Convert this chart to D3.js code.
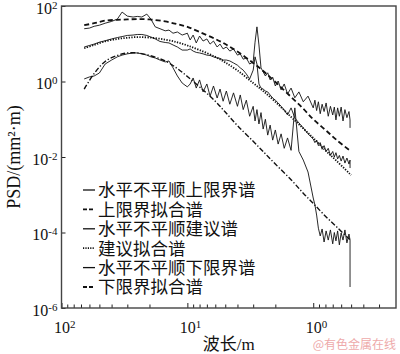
<!DOCTYPE html>
<html>
<head>
<meta charset="utf-8">
<script src="https://cdn.jsdelivr.net/npm/d3@7/dist/d3.min.js"></script>
<style>
  body { margin: 0; background: #fff; }
  text { fill: #111; }
</style>
</head>
<body>
<div id="chart"></div>
<script>
// wavelength grid of the measured spectra (m)
const measuredWl = [66, 60, 55, 50, 45, 40, 36, 33, 30, 27, 25, 23, 21, 19.5, 18, 16.5, 15, 14, 13, 12, 11, 10,
  9.5, 9, 8.5, 8, 7.5, 7, 6.6, 6.2, 5.8, 5.5, 5.2, 4.9, 4.6, 4.3, 4.0, 3.8, 3.6, 3.4, 3.2, 3.0,
  2.9, 2.8, 2.7, 2.6, 2.5, 2.4, 2.3, 2.2, 2.1, 2.0, 1.9, 1.8, 1.7, 1.6, 1.5, 1.4, 1.3, 1.2, 1.1, 1.0,
  0.97, 0.94, 0.91, 0.88, 0.85, 0.82, 0.79, 0.76, 0.73, 0.70, 0.68, 0.66, 0.64, 0.62, 0.60, 0.58, 0.56, 0.54, 0.52, 0.51, 0.51];

const upperMeasured = [25, 26, 29, 31, 35, 39, 45, 69, 54, 51, 53, 51, 61, 45, 28, 25, 22, 23, 19, 20.5, 17, 19,
  12.6, 17, 10.5, 16, 11.8, 13.4, 9.8, 11.8, 8.2, 9.8, 7.3, 8.2, 6.4, 7.3, 5.0, 5.4, 3.9, 4.2, 2.9, 3.3,
  11, 28, 9.3, 2.3, 1.8, 1.4, 1.7, 1.1, 1.3, 0.76, 1.03, 0.60, 0.86, 0.47, 0.67, 0.37, 0.53, 0.29, 0.41, 0.20,
  0.32, 0.17, 0.29, 0.14, 0.25, 0.16, 0.27, 0.12, 0.22, 0.13, 0.21, 0.096, 0.20, 0.12, 0.21, 0.090, 0.18, 0.11, 0.16, 0.096, 0.059];

const middleMeasured = [8.2, 9.0, 9.8, 11, 12, 13.4, 14.6, 15.5, 16.6, 17, 17.6, 17.6, 16.6, 15, 13.4, 11.5, 10.8, 10.5, 9.3, 8.2, 6.8, 6.8,
  7.3, 6.4, 5.9, 5.7, 5.4, 5.0, 4.9, 4.5, 4.2, 4.1, 3.7, 3.7, 3.5, 3.1, 2.7, 2.3, 2.0, 1.58, 1.17, 2.0,
  4.5, 2.9, 0.86, 0.67, 0.63, 0.56, 0.53, 0.44, 0.365, 0.32, 0.27, 0.22, 0.176, 0.13, 0.20, 0.108, 0.080, 0.059, 0.041, 0.030,
  0.024, 0.028, 0.020, 0.024, 0.016, 0.020, 0.014, 0.017, 0.011, 0.014, 0.010, 0.013, 0.0089, 0.011, 0.0078, 0.0106, 0.0069, 0.0094, 0.0065, 0.0083, 0.0051];

const lowerMeasured = [1.17, 1.32, 1.40, 1.68, 2.9, 3.7, 4.5, 5.0, 5.4, 5.7, 5.7, 5.4, 5.0, 4.5, 4.2, 3.7, 3.3, 3.5, 2.3, 1.40, 0.91, 0.72,
  0.86, 1.24, 0.67, 1.10, 0.53, 0.86, 0.41, 0.76, 0.365, 0.63, 0.30, 0.56, 0.25, 0.50, 0.22, 0.44, 0.18, 0.32, 0.12, 0.22,
  0.090, 0.18, 0.075, 0.15, 0.055, 0.10, 0.038, 0.070, 0.028, 0.052, 0.022, 0.041, 0.017, 0.032, 0.015, 0.20, 0.014, 0.0083, 0.0040, 8.2e-4,
  5.4e-4, 2.9e-4, 1.3e-4, 8.1e-5, 1.24e-4, 5.6e-5, 1.1e-4, 6.3e-5, 1.17e-4, 5.0e-5, 1.0e-4, 6.0e-5, 1.1e-4, 4.7e-5, 9.7e-5, 6.3e-5, 1.17e-4, 5.3e-5, 9.1e-5, 6.3e-5, 3.6e-6];

// fitted spectra
const fitWl = [66, 55, 45, 36, 30, 25, 20, 15, 12, 10, 8, 6, 5, 4, 3, 2.5, 2, 1.5, 1.2, 1, 0.8, 0.65, 0.5];
const upperFit = [31, 35, 41, 43, 44, 45, 44, 39, 33, 28, 20.5, 13.4, 9.8, 6.2, 3.1, 1.9, 0.97, 0.39, 0.19, 0.10, 0.052, 0.028, 0.014];
const middleFit = [7.6, 9.3, 11.6, 13.4, 14.4, 15, 14.6, 12.9, 10.9, 9.0, 6.8, 4.5, 3.2, 1.96, 0.91, 0.56, 0.29, 0.115, 0.057, 0.032, 0.015, 0.0078, 0.0033];
const lowerFit = [0.63, 1.63, 3.4, 4.9, 5.7, 5.7, 4.9, 3.5, 2.2, 1.36, 0.72, 0.30, 0.155, 0.068, 0.026, 0.014, 0.0065, 0.0025, 0.0011, 5.9e-4, 2.7e-4, 1.4e-4, 6.0e-5];

const xMajorTicks = [100, 10, 1];
const xMinorTicks = [90, 80, 70, 60, 50, 40, 30, 20, 9, 8, 7, 6, 5, 4, 3, 2, 0.9, 0.8, 0.7, 0.6, 0.5, 0.4, 0.3];
const yTicks = [1e2, 1, 1e-2, 1e-4, 1e-6];

const seriesNames = ["水平不平顺上限界谱", "上限界拟合谱", "水平不平顺建议谱", "建议拟合谱", "水平不平顺下限界谱", "下限界拟合谱"];

const width = 400;
const height = 354;
const plot = { left: 61.5, right: 396, top: 6, bottom: 308 };
const serif = "'Liberation Serif', 'Times New Roman', 'Noto Sans CJK SC', serif";
const cjk = "'Liberation Serif', 'Noto Sans CJK SC', sans-serif";

const styles = [
  { dash: null, width: 0.9 },
  { dash: "5,3", width: 1.8 },
  { dash: null, width: 0.9 },
  { dash: "1.3,1.4", width: 1.8 },
  { dash: null, width: 0.9 },
  { dash: "5,2,1.3,2", width: 1.4 },
];

const series = [
  { wl: measuredWl, psd: upperMeasured, curve: d3.curveLinear },
  { wl: fitWl, psd: upperFit, curve: d3.curveCatmullRom },
  { wl: measuredWl, psd: middleMeasured, curve: d3.curveLinear },
  { wl: fitWl, psd: middleFit, curve: d3.curveCatmullRom },
  { wl: measuredWl, psd: lowerMeasured, curve: d3.curveLinear },
  { wl: fitWl, psd: lowerFit, curve: d3.curveCatmullRom },
].map((s, i) => ({ ...s, name: seriesNames[i], style: styles[i], points: s.wl.map((w, j) => [w, s.psd[j]]) }));

const svg = d3.select("#chart").append("svg").attr("width", width).attr("height", height);

const x = d3.scaleLog().domain([100, 0.22]).range([plot.left, plot.right]);
const y = d3.scaleLog().domain([1e-6, 1e2]).range([plot.bottom, plot.top]);

function powLabel(sel) {
  sel.each(function (d) {
    const t = d3.select(this).text(null);
    t.append("tspan").text("10");
    t.append("tspan").attr("dy", "-0.45em").attr("font-size", "11px").text(Math.round(Math.log10(d)));
  });
}

// minor ticks on the wavelength axis
svg.append("g")
  .attr("transform", `translate(0,${plot.bottom})`)
  .call(d3.axisBottom(x).tickValues(xMinorTicks).tickSize(-3.5).tickFormat(""))
  .call((g) => g.select(".domain").remove())
  .call((g) => g.selectAll(".tick line").attr("stroke", "#222"));

svg.append("g")
  .attr("transform", `translate(0,${plot.bottom})`)
  .call(d3.axisBottom(x).tickValues(xMajorTicks).tickSize(-5).tickPadding(10))
  .call((g) => g.select(".domain").remove())
  .call((g) => g.selectAll(".tick line").attr("stroke", "#222"))
  .call((g) => g.selectAll(".tick text")
    .attr("font-family", serif).attr("font-size", "16px").attr("fill", "#111")
    .attr("text-anchor", "start").attr("dx", "-8").attr("dy", "0.95em")
    .call(powLabel));

svg.append("g")
  .attr("transform", `translate(${plot.left},0)`)
  .call(d3.axisLeft(y).tickValues(yTicks).tickSize(-4).tickPadding(4))
  .call((g) => g.select(".domain").remove())
  .call((g) => g.selectAll(".tick line").attr("stroke", "#222"))
  .call((g) => g.selectAll(".tick text")
    .attr("font-family", serif).attr("font-size", "16px").attr("fill", "#111")
    .attr("dy", "0.45em")
    .call(powLabel));

svg.append("rect")
  .attr("x", plot.left).attr("y", plot.top)
  .attr("width", plot.right - plot.left).attr("height", plot.bottom - plot.top)
  .attr("fill", "none").attr("stroke", "#444").attr("stroke-width", 1.4);

const line = d3.line().x((d) => x(d[0])).y((d) => y(d[1]));

svg.append("g")
  .selectAll("path")
  .data(series)
  .join("path")
  .attr("d", (s) => line.curve(s.curve)(s.points))
  .attr("fill", "none")
  .attr("stroke", "#111")
  .attr("stroke-width", (s) => s.style.width)
  .attr("stroke-dasharray", (s) => s.style.dash)
  .attr("stroke-linejoin", "round");

// legend
const legend = svg.append("g").attr("transform", "translate(83,190)");
const item = legend.selectAll("g").data(series).join("g").attr("transform", (d, i) => `translate(0,${i * 19.4})`);
item.append("line")
  .attr("x1", 0).attr("x2", 12).attr("y1", 0).attr("y2", 0)
  .attr("stroke", "#111")
  .attr("stroke-width", (s) => (s.style.dash ? 1.8 : 1.3))
  .attr("stroke-dasharray", (s) => (s.style.dash === "1.3,1.4" ? "1.2,1.2" : s.style.dash ? "4,2" : null));
item.append("text")
  .attr("x", 15).attr("y", 0).attr("dy", "0.36em")
  .attr("font-family", cjk).attr("font-size", "17.5px")
  .text((s) => s.name);

svg.append("text")
  .attr("transform", `translate(20,${(plot.top + plot.bottom) / 2}) rotate(-90)`)
  .attr("text-anchor", "middle")
  .attr("font-family", serif).attr("font-size", "18px")
  .text("PSD/(mm²·m)");

svg.append("text")
  .attr("x", (plot.left + plot.right) / 2).attr("y", 350)
  .attr("text-anchor", "middle")
  .attr("font-family", cjk).attr("font-size", "17px")
  .text("波长/m");

svg.append("text")
  .attr("x", 396).attr("y", 349)
  .attr("text-anchor", "end")
  .attr("font-family", "'Noto Sans CJK SC', sans-serif").attr("font-size", "12px")
  .style("fill", "#eeaaaa")
  .text("@有色金属在线");
</script>
</body>
</html>
